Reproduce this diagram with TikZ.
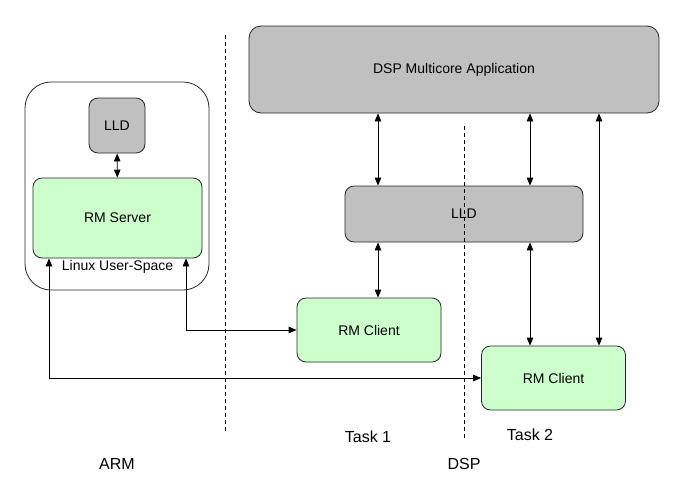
\documentclass[tikz,border=0pt]{standalone}
\usepackage{fontspec}
\setmainfont{Liberation Sans}
\usetikzlibrary{arrows.meta}
\definecolor{boxgray}{RGB}{192,192,192}
\definecolor{boxgreen}{RGB}{204,255,204}

\begin{document}
\begin{tikzpicture}[x=1pt,y=-1pt,
  box/.style={draw=black!85,line width=0.8pt,rounded corners=9pt,inner sep=0pt,
    font=\fontsize{14}{16}\selectfont},
  graybox/.style={box,fill=boxgray},
  greenbox/.style={box,fill=boxgreen},
  link/.style={line width=0.8pt,{Triangle[length=8pt,width=6.5pt]}-{Triangle[length=8pt,width=6.5pt]}},
  divider/.style={line width=0.6pt,dash pattern=on 4pt off 3pt},
  caption/.style={font=\fontsize{16}{18}\selectfont}]
\useasboundingbox (0,0) rectangle (680,491);
% tegn ARM side
\node[box,minimum width=184pt,minimum height=208pt,rounded corners=26pt] (linux) at (117,186) {};
\node[graybox,minimum width=56pt,minimum height=55pt] (lldarm) at (117,125.5) {LLD};
\node[greenbox,minimum width=169pt,minimum height=80pt] (server) at (117.5,218) {RM Server};
\node[font=\fontsize{14}{16}\selectfont] (userspace) at (117.5,266.5) {Linux User-Space};
% tegn DSP side
\node[graybox,minimum width=410pt,minimum height=87pt,rounded corners=12pt] (app) at (454,69.5) {DSP Multicore Application};
\node[graybox,minimum width=238pt,minimum height=56pt] (lld) at (464,214) {LLD};
\node[greenbox,minimum width=144pt,minimum height=64pt] (clienta) at (369,330) {RM Client};
\node[greenbox,minimum width=144pt,minimum height=64pt] (clientb) at (553.5,378) {RM Client};
% skillelinier
\draw[divider] (225,35) coordinate (topa) -- (225,432) coordinate (bota);
\draw[divider] (464,126) coordinate (topb) -- (464,438) coordinate (botb);
% tegn pile
\coordinate (ca) at (378,0);
\coordinate (cb) at (530,0);
\coordinate (cc) at (599,0);
\coordinate (cd) at (186,0);
\coordinate (ce) at (49,0);
\draw[link] (lldarm) -- (server);
\draw[link] (app.south -| ca) -- (lld.north -| ca);
\draw[link] (lld.south -| ca) -- (clienta.north -| ca);
\draw[link] (app.south -| cb) -- (lld.north -| cb);
\draw[link] (lld.south -| cb) -- (clientb.north -| cb);
\draw[link] (app.south -| cc) -- (clientb.north -| cc);
\draw[link] (server.south -| cd) |- (clienta.west);
\draw[link] (server.south -| ce) |- (clientb.west);
% tekster
\node[caption] (task1) at (368,437) {Task 1};
\node[caption] (task2) at (530,435) {Task 2};
\node[caption] (arm) at (117,464) {ARM};
\node[caption] (dsp) at (464,464) {DSP};
\end{tikzpicture}
\end{document}
